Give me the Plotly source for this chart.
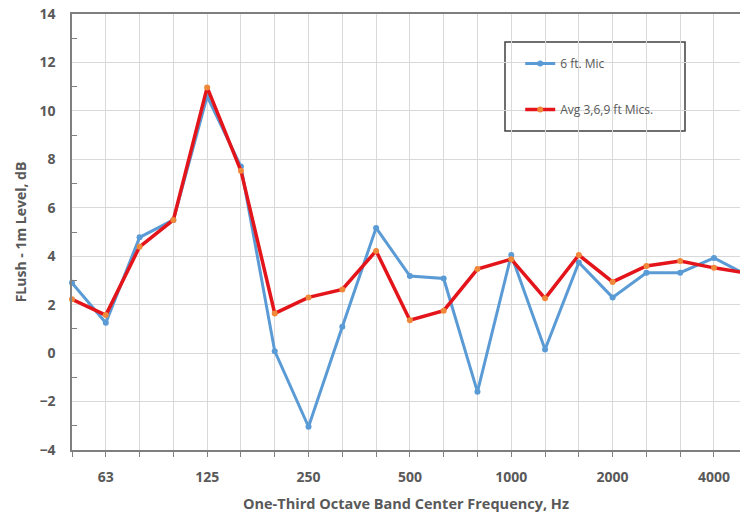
import plotly.graph_objects as go

bands = ["50", "63", "80", "100", "125", "160", "200", "250", "315", "400", "500",
         "630", "800", "1000", "1250", "1600", "2000", "2500", "3150", "4000", "5000"]
mic6 = [2.9, 1.25, 4.78, 5.5, 10.6, 7.7, 0.08, -3.04, 1.09, 5.17, 3.18,
        3.08, -1.6, 4.05, 0.15, 3.74, 2.3, 3.32, 3.32, 3.93, 3.2]
avg369 = [2.22, 1.57, 4.39, 5.5, 10.97, 7.53, 1.64, 2.3, 2.63, 4.22, 1.36,
          1.75, 3.47, 3.88, 2.26, 4.05, 2.94, 3.6, 3.8, 3.52, 3.3]
label_bands = ["63", "125", "250", "500", "1000", "2000", "4000"]

xi = list(range(len(bands)))
tickvals = [bands.index(b) for b in label_bands]

GRAY = "#595959"
fnt = "Open Sans"

fig = go.Figure()
fig.add_trace(go.Scatter(
    x=xi, y=mic6, name="6 ft. Mic", mode="lines+markers",
    line=dict(color="#5B9BD5", width=3),
    marker=dict(color="#5B9BD5", size=6),
    cliponaxis=False, legendgroup="a"))
fig.add_trace(go.Scatter(
    x=xi, y=avg369, name="Avg 3,6,9 ft Mics.", mode="lines+markers",
    line=dict(color="#E3151B", width=3.5),
    marker=dict(color="#F0883A", size=6),
    cliponaxis=False, legendgroup="b"))

fig.update_layout(
    width=740, height=517,
    margin=dict(l=72, r=0, t=14, b=67),
    paper_bgcolor="white", plot_bgcolor="white",
    font=dict(family=fnt, color=GRAY),
    showlegend=True,
    legend=dict(
        x=0.671, y=0.92, xanchor="left", yanchor="top",
        bgcolor="rgba(255,255,255,0)", borderwidth=0,
        font=dict(family=fnt, size=12, color=GRAY),
        traceorder="grouped", tracegroupgap=27, itemwidth=30,
    ),
    shapes=[dict(type="rect", xref="paper", yref="paper",
                 x0=(505 - 72) / 668, x1=(685 - 72) / 668,
                 y0=(450 - 131) / 436, y1=(450 - 42) / 436,
                 line=dict(color="#404040", width=1.5),
                 fillcolor="white", layer="below")],
    xaxis=dict(
        range=[0, 19.77],
        tickmode="array", tickvals=tickvals, ticktext=label_bands,
        ticks="outside", ticklen=5, tickcolor="#808080",
        showgrid=True, gridcolor="#D9D9D9", gridwidth=1,
        minor=dict(dtick=1, tick0=0, ticks="outside", ticklen=5,
                   tickcolor="#808080", showgrid=True, gridcolor="#D9D9D9"),
        showline=True, linecolor="#7F7F7F", linewidth=1.5, mirror=True,
        tickfont=dict(family=fnt, size=14, color=GRAY, weight="bold"),
        ticklabelstandoff=8,
        title=dict(text="One-Third Octave Band Center Frequency, Hz",
                   font=dict(family=fnt, size=14.5, color=GRAY, weight="bold"),
                   standoff=14),
        zeroline=False,
    ),
    yaxis=dict(
        range=[-4, 14], dtick=2, tick0=0,
        ticks="", showgrid=True, gridcolor="#D9D9D9", gridwidth=1,
        minor=dict(dtick=1, tick0=1, ticks="inside", ticklen=5,
                   tickcolor="#808080", showgrid=False),
        showline=True, linecolor="#7F7F7F", linewidth=1.5,
        tickfont=dict(family=fnt, size=14, color=GRAY, weight="bold"),
        ticklabelstandoff=12,
        title=dict(text="FLush - 1m Level, dB",
                   font=dict(family=fnt, size=14, color=GRAY, weight="bold"),
                   standoff=10),
        zeroline=False,
    ),
)

fig.write_html("out.html")
